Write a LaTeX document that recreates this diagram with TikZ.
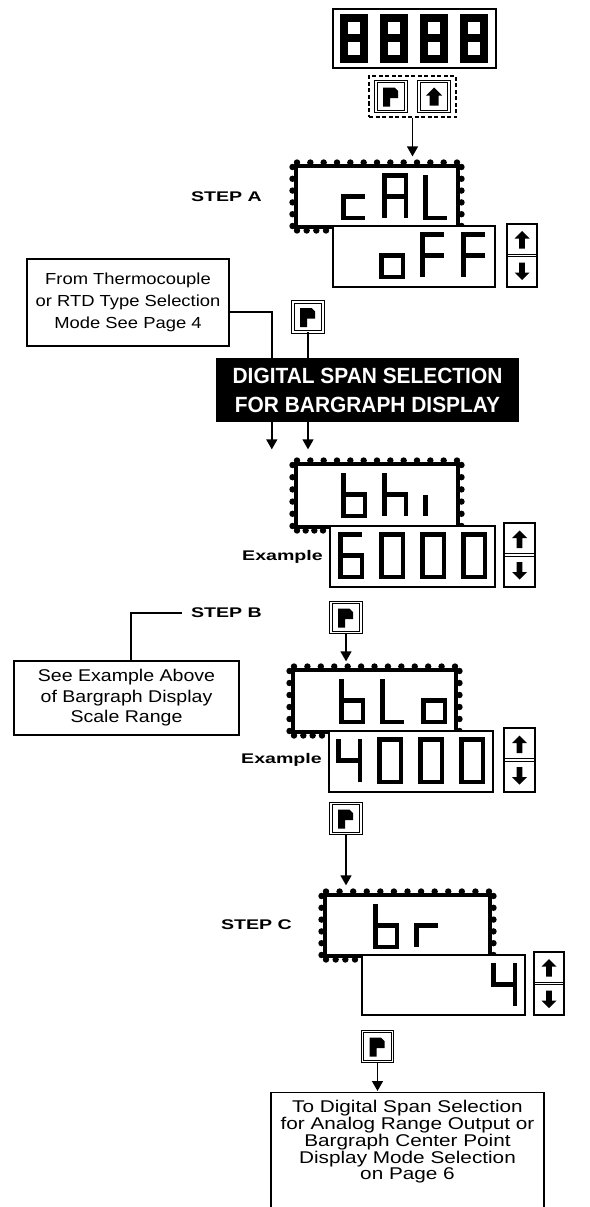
\documentclass[tikz,border=0pt]{standalone}
\usepackage{fontspec}
\setmainfont{Liberation Sans}
\newfontfamily\boxfont[FakeStretch=1.15]{Liberation Sans}
\newfontfamily\boxfontw[FakeStretch=1.22]{Liberation Sans}
\newfontfamily\lblfont[FakeStretch=1.4]{Liberation Sans}
\newfontfamily\headfont[FakeStretch=0.95]{Liberation Sans}
\usetikzlibrary{arrows.meta}

% seven-segment glyph: #1 stroke, #2 left, #3 top, #4 width, #5 height, #6 path
\newcommand\lcd[6]{%
\begin{scope}[shift={({#2+#1/2},{#3+#1/2})}]
\coordinate (p1) at (0,0);
\coordinate (p2) at ({#4-#1},0);
\coordinate (p3) at (0,{(#5-#1)/2});
\coordinate (p4) at ({#4-#1},{(#5-#1)/2});
\coordinate (p5) at (0,{#5-#1});
\coordinate (p6) at ({#4-#1},{#5-#1});
\draw[line width=#1pt, line join=miter] #6;
\end{scope}}
% digit in a display: #1 right edge of box, #2 top of box, #3 position 1..4, #4 glyph
\newcommand\dig[4]{\lcd{4.5}{#1-34-(4-#3)*41}{#2+6}{26}{47}{#4}}

\newcommand\glyphEight{(p1)--(p2)--(p6)--(p5)--cycle (p3)--(p4)}
\newcommand\glyphZero{(p1)--(p2)--(p6)--(p5)--cycle}
\newcommand\glyphSix{(p2)--(p1)--(p5)--(p6)--(p4)--(p3)}
\newcommand\glyphFour{(p1)--(p3)--(p4) (p2)--(p6)}
\newcommand\glyphc{(p4)--(p3)--(p5)--(p6)}
\newcommand\glyphA{(p5)--(p1)--(p2)--(p6) (p3)--(p4)}
\newcommand\glyphL{(p1)--(p5)--(p6)}
\newcommand\glypho{(p3)--(p4)--(p6)--(p5)--cycle}
\newcommand\glyphF{(p2)--(p1)--(p5) (p3)--(p4)}
\newcommand\glyphb{(p1)--(p5)--(p6)--(p4)--(p3)}
\newcommand\glyphh{(p1)--(p5) (p3)--(p4)--(p6)}
\newcommand\glyphi{(p3)--(p5)}
\newcommand\glyphr{(p5)--(p3)--(p4)}

% scalloped border: #1 X1, #2 Y1, #3 X2, #4 Y2, #5 left edge of lower box
\newcommand\scal[5]{%
 \draw[line width=3.4pt] ({#1-1.7},{#2-1.7}) rectangle ({#3+1.7},{#4+1.7});
 \foreach \i in {0,...,12} {\fill ({#1+\i*(#3-#1)/12},{#2-4.5}) circle (3.2);}
 \foreach \i in {0,...,5} {\fill ({#1-4.5},{#2+\i*(#4-#2)/5}) circle (3.2);
   \fill ({#3+4.5},{#2+\i*(#4-#2)/5}) circle (3.2);}
 \foreach \i in {0,...,3} {\fill ({#1+\i*(#5-#1-7)/3},{#4+4.5}) circle (3.2);}
}
% up/down arrows inside a button node
\newcommand\udarrows[1]{%
 \draw[line width=1pt] ([yshift=1.4pt]#1.west) -- ([yshift=1.4pt]#1.east)
   ([yshift=-1.4pt]#1.west) -- ([yshift=-1.4pt]#1.east);
 \fill[shift={([yshift=15.5pt]#1.center)}] (0,-9)--(7.5,-1.5)--(2.8,-1.5)--(2.8,8.5)--(-2.8,8.5)--(-2.8,-1.5)--(-7.5,-1.5)--cycle;
 \fill[shift={([yshift=-15.5pt]#1.center)}] (0,9)--(7.5,1.5)--(2.8,1.5)--(2.8,-8.5)--(-2.8,-8.5)--(-2.8,1.5)--(-7.5,1.5)--cycle;
}

\tikzset{
 disp/.style={draw, fill=white, line width=1.3pt, inner sep=0pt},
 udbox/.style={draw, fill=white, line width=1.3pt, inner sep=0pt, minimum width=30pt, minimum height=63pt},
 pbtn/.style={draw, line width=0.9pt, double, double distance=1.4pt, minimum size=30pt, inner sep=0pt,
   path picture={\fill[shift={(path picture bounding box.center)}] (-8,-9) -- (3.5,-9) -- (7,-5.5) -- (7,1.5) -- (-1,1.5) -- (-1,10) -- (-8,10) -- cycle;}},
 upbtn/.style={draw, line width=0.9pt, double, double distance=1.4pt, minimum size=30pt, inner sep=0pt,
   path picture={\fill[shift={(path picture bounding box.center)}] (0,-9) -- (8,-1) -- (4.5,-1) -- (4.5,9) -- (-4.5,9) -- (-4.5,-1) -- (-8,-1) -- cycle;}},
 tbox/.style={draw, line width=1.3pt, inner sep=0pt, align=center},
 lbl/.style={inner sep=0pt, font=\lblfont\bfseries\fontsize{14}{14}\selectfont},
 conn/.style={line width=1.4pt},
 arr/.style={line width=1.4pt, -{Triangle[width=11pt,length=10pt]}},
}

\begin{document}
\begin{tikzpicture}[x=1pt,y=-1pt]
\fill[white] (0,0) rectangle (589,1207);
\useasboundingbox (0,0) rectangle (589,1207);

% top display
\node[disp, minimum width=163pt, minimum height=59pt] (topdisp) at (414.5,38.5) {};
\foreach \xx in {340,380,420,460} {\lcd{8}{\xx}{14}{28}{49}{\glyphEight}}
\node[draw, dashed, dash pattern=on 4pt off 2.5pt, line width=1.3pt, minimum width=87pt, minimum height=41pt] (grp) at (412.5,96.5) {};
\node[pbtn] (pTop) at (391,96.5) {};
\node[upbtn] (upTop) at (434,96.5) {};

% STEP A display
\scal{297}{167}{457}{226}{333}
\node[disp, minimum width=160pt, minimum height=59pt] (calbox) at (377,196.5) {};
\dig{457}{167}{2}{\glyphc}\dig{457}{167}{3}{\glyphA}\dig{457}{167}{4}{\glyphL}
\node[disp, minimum width=162pt, minimum height=61pt] (offbox) at (414,256.5) {};
\dig{495}{226}{2}{\glypho}\dig{495}{226}{3}{\glyphF}\dig{495}{226}{4}{\glyphF}
\node[udbox] (udA) at (522,255.5) {};
\udarrows{udA}
\node[lbl, anchor=east] (stepA) at (262,197) {STEP A};
\draw[arr, shorten >=10pt] (grp.south) -- (grp.south |- calbox.north);

% from thermocouple
\node[tbox, minimum width=202pt, minimum height=87pt, font=\boxfont\fontsize{16}{21.7}\selectfont] (tc) at (128,302.5) {From Thermocouple\\or RTD Type Selection\\Mode See Page 4};
\node[pbtn] (pA) at (308,317) {};
\node[fill=black, text=white, inner sep=0pt, minimum width=303pt, minimum height=64pt, align=center,
  font=\headfont\bfseries\fontsize{22}{29}\selectfont] (head) at (367.5,390) {DIGITAL SPAN SELECTION\\FOR BARGRAPH DISPLAY};
\draw[conn] ([yshift=-9.5pt]tc.east) -| ([xshift=56pt]head.north west);
\draw[conn] (pA.south) -- (pA.south |- head.north);

% bhi display
\scal{297}{465}{457}{526}{330}
\node[disp, minimum width=160pt, minimum height=61pt] (bhibox) at (377,495.5) {};
\dig{457}{465}{2}{\glyphb}\dig{457}{465}{3}{\glyphh}\dig{457}{465}{4}{\glyphi}
\node[disp, minimum width=165pt, minimum height=61pt] (sixbox) at (412.5,556.5) {};
\dig{495}{526}{1}{\glyphSix}\dig{495}{526}{2}{\glyphZero}\dig{495}{526}{3}{\glyphZero}\dig{495}{526}{4}{\glyphZero}
\node[udbox, minimum width=31pt, minimum height=64pt] (udB) at (519.5,555) {};
\udarrows{udB}
\node[lbl, anchor=east] (exB) at (323,557) {Example};
\draw[arr, shorten >=15pt] ([xshift=56pt]head.south west) -- ([xshift=56pt]head.south west |- bhibox.north);
\draw[arr, shorten >=15pt] (pA.south |- head.south) -- (pA.south |- bhibox.north);

% STEP B
\node[pbtn] (pB) at (346,617.5) {};
\node[lbl, anchor=east] (stepB) at (262,613) {STEP B};
\node[tbox, minimum width=225pt, minimum height=74pt, font=\boxfont\fontsize{17}{20.5}\selectfont] (seeex) at (126.5,698) {See Example Above\\of Bargraph Display\\Scale Range};
\draw[conn] ([xshift=-9pt]stepB.west) -| ([xshift=4.5pt]seeex.north);

% bLo display
\scal{294}{671}{455}{731}{329}
\node[disp, minimum width=161pt, minimum height=60pt] (blobox) at (374.5,701) {};
\dig{455}{671}{2}{\glyphb}\dig{455}{671}{3}{\glyphL}\dig{455}{671}{4}{\glypho}
\node[disp, minimum width=164pt, minimum height=61pt] (fourbox) at (411,761.5) {};
\dig{493}{731}{1}{\glyphFour}\dig{493}{731}{2}{\glyphZero}\dig{493}{731}{3}{\glyphZero}\dig{493}{731}{4}{\glyphZero}
\node[udbox, minimum width=31pt, minimum height=64pt] (udC) at (519.5,760) {};
\udarrows{udC}
\node[lbl, anchor=east] (exC) at (322,760) {Example};
\draw[arr, shorten >=9pt] (pB.south) -- (pB.south |- blobox.north);

% STEP C
\node[pbtn] (pC) at (346,818.5) {};
\scal{326}{896}{489}{955}{362}
\node[disp, minimum width=163pt, minimum height=59pt] (brbox) at (407.5,925.5) {};
\dig{489}{896}{2}{\glyphb}\dig{489}{896}{3}{\glyphr}
\node[disp, minimum width=163pt, minimum height=60pt] (ybox) at (443.5,985) {};
\dig{525}{955}{4}{\glyphFour}
\node[udbox] (udD) at (549,983.5) {};
\udarrows{udD}
\node[lbl, anchor=east] (stepC) at (292,925) {STEP C};
\draw[arr, shorten >=10pt] (pC.south) -- (pC.south |- brbox.north);

% exit
\node[pbtn] (pD) at (377.5,1046.5) {};
\node[draw, line width=1.3pt, anchor=north, minimum width=273pt, minimum height=130pt, inner sep=0pt] (tobox) at (407.5,1092) {};
\node[anchor=north, inner sep=0pt, align=center, font=\boxfontw\fontsize{17}{15}\selectfont] (totext) at ([yshift=-8pt]tobox.north) {To Digital Span Selection\\for Analog Range Output or\\Bargraph Center Point\\Display Mode Selection\\on Page 6};
\draw[arr, shorten >=1pt] (pD.south) -- (pD.south |- tobox.north);
\end{tikzpicture}
\end{document}
